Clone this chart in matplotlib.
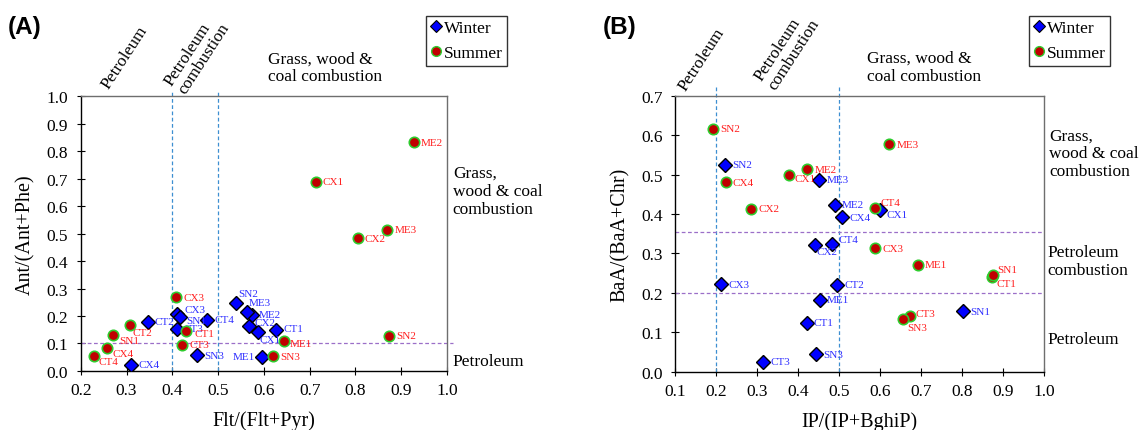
import matplotlib.pyplot as plt
from matplotlib.lines import Line2D

plt.rcParams['font.family'] = ['Liberation Serif', 'DejaVu Serif']

# ---- data ----
# panel A: Flt/(Flt+Pyr) vs Ant/(Ant+Phe)
sites_a = ['CT1', 'CT2', 'CT3', 'CT4', 'CX1', 'CX2', 'CX3', 'CX4',
           'SN1', 'SN2', 'SN3', 'ME1', 'ME2', 'ME3']
flt_winter = [0.627, 0.346, 0.410, 0.476, 0.588, 0.568, 0.411, 0.310,
              0.416, 0.539, 0.454, 0.596, 0.574, 0.563]
ant_winter = [0.150, 0.179, 0.153, 0.187, 0.141, 0.162, 0.208, 0.022,
              0.195, 0.247, 0.058, 0.052, 0.205, 0.213]
flt_summer = [0.430, 0.308, 0.422, 0.229, 0.713, 0.805, 0.409, 0.257,
              0.271, 0.873, 0.621, 0.645, 0.927, 0.870]
ant_summer = [0.147, 0.167, 0.095, 0.053, 0.688, 0.483, 0.269, 0.085,
              0.132, 0.128, 0.053, 0.110, 0.832, 0.513]

# panel B: IP/(IP+BghiP) vs BaA/(BaA+Chr)
sites_b_winter = sites_a
ip_winter = [0.422, 0.496, 0.315, 0.484, 0.600, 0.441, 0.213, 0.508,
             0.803, 0.223, 0.444, 0.454, 0.489, 0.452]
baa_winter = [0.124, 0.221, 0.025, 0.324, 0.410, 0.322, 0.222, 0.392,
              0.153, 0.525, 0.044, 0.182, 0.424, 0.487]
sites_b_summer = ['CT1', 'CT3', 'CT4', 'CX1', 'CX2', 'CX3', 'CX4',
                  'SN1', 'SN2', 'SN3', 'ME1', 'ME2', 'ME3']
ip_summer = [0.873, 0.673, 0.587, 0.378, 0.286, 0.588, 0.224,
             0.875, 0.193, 0.656, 0.693, 0.423, 0.623]
baa_summer = [0.241, 0.140, 0.414, 0.500, 0.413, 0.313, 0.480,
              0.246, 0.616, 0.134, 0.271, 0.514, 0.577]

# label offsets (points) where the label is not simply to the right
offs_a_w = {'CX3': (5, 3), 'SN1': (5, -2), 'SN2': (2, 7), 'ME3': (1, 7),
            'CX2': (4, 3), 'CX1': (1, -5), 'ME1': (-5, 0), 'CT1': (5, 1),
            'CT3': (5, 0)}
offs_a_s = {'CT4': (3, -4), 'CX4': (4, -4), 'SN1': (4, -4), 'CT2': (2, -5),
            'CT1': (6, -2), 'ME1': (4, -2)}
offs_b_w = {'CX2': (1, -5), 'CT4': (4, 3), 'CX1': (5, -3)}
offs_b_s = {'SN1': (3, 4), 'CT1': (3, -5), 'CT3': (4, 2), 'SN3': (3, -6),
            'CX1': (4, -3), 'CT4': (4, 4)}

BLUE = '#0000ff'
RED = '#c00000'
GREEN = '#2ecc2e'
TXT_BLUE = '#3030ff'
TXT_RED = '#ff2020'


def label_points(ax, xs, ys, names, color, offsets):
    for x, y, n in zip(xs, ys, names):
        dx, dy = offsets.get(n, (5, 0))
        ax.annotate(n, (x, y), xytext=(dx, dy), textcoords='offset points',
                    ha='left' if dx >= 0 else 'right', va='center',
                    fontsize=8, color=color)


def style_axes(ax):
    for s in ['left', 'bottom']:
        ax.spines[s].set_color('black')
        ax.spines[s].set_linewidth(1.0)
    for s in ['top', 'right']:
        ax.spines[s].set_color('#6e6e6e')
        ax.spines[s].set_linewidth(1.0)
    ax.tick_params(direction='inout', length=6, width=0.8, labelsize=12.5,
                   top=False, right=False)
    ax.tick_params(axis='x', pad=5)
    ax.tick_params(axis='y', pad=6)
    ax.yaxis.set_major_formatter(plt.FormatStrFormatter('%.1f'))
    ax.xaxis.set_major_formatter(plt.FormatStrFormatter('%.1f'))


fig = plt.figure(figsize=(11.42, 4.31), dpi=100)
axA = fig.add_axes([0.0707, 0.1369, 0.3207, 0.638])
axB = fig.add_axes([0.5911, 0.1353, 0.3231, 0.6403])

# ---------------- panel A ----------------
axA.axvline(0.4, ymin=0, ymax=1.02, color='#3d8fd1', ls=(0, (3, 2)), lw=0.9, clip_on=False)
axA.axvline(0.5, ymin=0, ymax=1.02, color='#3d8fd1', ls=(0, (3, 2)), lw=0.9, clip_on=False)
axA.plot([0.2, 1.013], [0.1, 0.1], color='#9b6fc8', ls=(0, (3, 2)), lw=0.9, clip_on=False)

axA.plot(flt_winter, ant_winter, 'D', ms=7, mfc=BLUE, mec='black', mew=1.0, ls='none', zorder=3)
axA.plot(flt_summer, ant_summer, 'o', ms=7.5, mfc=RED, mec=GREEN, mew=1.2, ls='none', zorder=4)
label_points(axA, flt_winter, ant_winter, sites_a, TXT_BLUE, offs_a_w)
label_points(axA, flt_summer, ant_summer, sites_a, TXT_RED, offs_a_s)

axA.set_xlim(0.2, 1.0)
axA.set_ylim(0.0, 1.0)
axA.set_xticks([0.2, 0.3, 0.4, 0.5, 0.6, 0.7, 0.8, 0.9, 1.0])
axA.set_yticks([0.0, 0.1, 0.2, 0.3, 0.4, 0.5, 0.6, 0.7, 0.8, 0.9, 1.0])
style_axes(axA)
axA.set_xlabel('Flt/(Flt+Pyr)', fontsize=14.5, labelpad=9)
axA.set_ylabel('Ant/(Ant+Phe)', fontsize=14.5, labelpad=8)

axA.text(0.121, 1.142, 'Petroleum', transform=axA.transAxes, rotation=57,
         ha='center', va='center', fontsize=12.5, rotation_mode='anchor')
axA.text(0.318, 1.153, 'Petroleum\ncombustion', transform=axA.transAxes, rotation=57,
         ha='center', va='center', fontsize=12.5, rotation_mode='anchor',
         multialignment='left', linespacing=1.0)
axA.text(0.511, 1.105, 'Grass, wood &\ncoal combustion', transform=axA.transAxes,
         ha='left', va='center', fontsize=12.5, linespacing=1.15)
axA.text(1.016, 0.655, 'Grass,\nwood & coal\ncombustion', transform=axA.transAxes,
         ha='left', va='center', fontsize=12.5, linespacing=1.15)
axA.text(1.016, 0.037, 'Petroleum', transform=axA.transAxes,
         ha='left', va='center', fontsize=12.5)

# ---------------- panel B ----------------
axB.axvline(0.2, ymin=0, ymax=1.036, color='#3d8fd1', ls=(0, (3, 2)), lw=0.9, clip_on=False)
axB.axvline(0.5, ymin=0, ymax=1.036, color='#3d8fd1', ls=(0, (3, 2)), lw=0.9, clip_on=False)
axB.axhline(0.355, color='#9b6fc8', ls=(0, (3, 2)), lw=0.9)
axB.axhline(0.2, color='#9b6fc8', ls=(0, (3, 2)), lw=0.9)

axB.plot(ip_winter, baa_winter, 'D', ms=7, mfc=BLUE, mec='black', mew=1.0, ls='none', zorder=3)
axB.plot(ip_summer, baa_summer, 'o', ms=7.5, mfc=RED, mec=GREEN, mew=1.2, ls='none', zorder=4)
label_points(axB, ip_winter, baa_winter, sites_b_winter, TXT_BLUE, offs_b_w)
label_points(axB, ip_summer, baa_summer, sites_b_summer, TXT_RED, offs_b_s)

axB.set_xlim(0.1, 1.0)
axB.set_ylim(0.0, 0.7)
axB.set_xticks([0.1, 0.2, 0.3, 0.4, 0.5, 0.6, 0.7, 0.8, 0.9, 1.0])
axB.set_yticks([0.0, 0.1, 0.2, 0.3, 0.4, 0.5, 0.6, 0.7])
style_axes(axB)
axB.set_xlabel('IP/(IP+BghiP)', fontsize=14.5, labelpad=9)
axB.set_ylabel('BaA/(BaA+Chr)', fontsize=14.5, labelpad=8)

axB.text(0.073, 1.133, 'Petroleum', transform=axB.transAxes, rotation=57,
         ha='center', va='center', fontsize=12.5, rotation_mode='anchor')
axB.text(0.304, 1.169, 'Petroleum\ncombustion', transform=axB.transAxes, rotation=57,
         ha='center', va='center', fontsize=12.5, rotation_mode='anchor',
         multialignment='left', linespacing=1.0)
axB.text(0.520, 1.104, 'Grass, wood &\ncoal combustion', transform=axB.transAxes,
         ha='left', va='center', fontsize=12.5, linespacing=1.15)
axB.text(1.014, 0.792, 'Grass,\nwood & coal\ncombustion', transform=axB.transAxes,
         ha='left', va='center', fontsize=12.5, linespacing=1.15)
axB.text(1.009, 0.401, 'Petroleum\ncombustion', transform=axB.transAxes,
         ha='left', va='center', fontsize=12.5, linespacing=1.15)
axB.text(1.009, 0.118, 'Petroleum', transform=axB.transAxes,
         ha='left', va='center', fontsize=12.5)

# legends
handles = [Line2D([], [], marker='D', ls='none', ms=6.5, mfc=BLUE, mec='black', mew=0.8),
           Line2D([], [], marker='o', ls='none', ms=7, mfc=RED, mec=GREEN, mew=1.0)]
for x0 in [426 / 1142, 1029 / 1142]:
    leg = fig.legend(handles, ['Winter', 'Summer'], loc='upper left',
                     bbox_to_anchor=(x0, 1 - 17 / 431), fontsize=12.5,
                     frameon=True, fancybox=False, edgecolor='black',
                     handlelength=0.6, handletextpad=0.2, borderpad=0.25,
                     labelspacing=0.5, borderaxespad=0)
    leg.get_frame().set_linewidth(1.0)

fig.text(8 / 1142, 1 - 28 / 431, '(A)', fontsize=17.5, fontweight='bold',
         family='Liberation Sans', ha='left', va='center')
fig.text(603 / 1142, 1 - 28 / 431, '(B)', fontsize=17.5, fontweight='bold',
         family='Liberation Sans', ha='left', va='center')

plt.savefig('out.png', dpi=100)
